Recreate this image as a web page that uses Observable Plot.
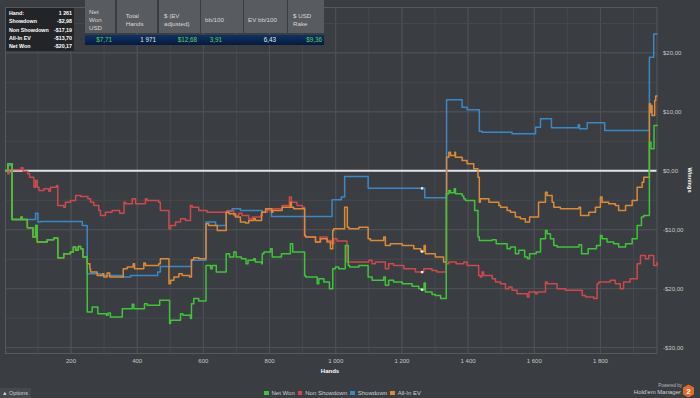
<!DOCTYPE html>
<html><head><meta charset="utf-8">
<script src="https://cdn.jsdelivr.net/npm/d3@7"></script>
<script src="https://cdn.jsdelivr.net/npm/@observablehq/plot@0.6"></script>
<style>
html,body{margin:0;padding:0;background:#3a3d41;}
#wrap{position:relative;width:700px;height:398px;overflow:hidden;background:#3a3d41;font-family:"Liberation Sans",Arial,sans-serif;}
#chart svg{display:block;}
#legend{position:absolute;left:264px;top:387px;height:12px;display:flex;align-items:center;font-size:6px;color:#cfcfcf;white-space:nowrap;}
#legend .it{display:flex;align-items:center;margin-right:3px;}
#legend .sw{width:4.5px;height:4.5px;margin-right:3px;}
#tooltip{position:absolute;left:6px;top:8px;width:68px;height:43px;background:#222427;box-sizing:border-box;padding:1px 2px 0 3px;}
#tooltip .row{display:flex;justify-content:space-between;height:8.3px;line-height:8.3px;font-size:5.3px;font-weight:bold;color:#fff;}
#table{position:absolute;left:85px;top:0;width:239px;height:45px;}
#thead{position:absolute;left:0;top:0;width:239px;height:33px;background:#3a3c40;}
.th{position:absolute;top:0;height:33px;background:#585b5f;color:#d8d8d8;font-size:6.2px;line-height:7.9px;box-sizing:border-box;display:flex;flex-direction:column;justify-content:center;padding-top:7px;}
#trow{position:absolute;left:0;top:35px;width:239px;height:10px;background:linear-gradient(#0e3264,#071a3c);}
.td{position:absolute;top:0;height:10px;line-height:10px;font-size:6.3px;text-align:right;}
#options{position:absolute;left:0;top:388px;width:31px;height:10px;background:#45484d;color:#cfcfcf;font-size:5.5px;line-height:10px;padding-left:2px;box-sizing:border-box;}
#xlabel{position:absolute;left:300px;width:60px;top:368px;text-align:center;font-size:6px;font-weight:bold;color:#fff;}
#ylabel{position:absolute;left:670px;top:177px;width:40px;text-align:center;font-size:5.6px;font-weight:bold;color:#fff;transform:rotate(90deg);}
#powered{position:absolute;right:18px;top:383px;font-size:4.5px;color:#b8b8b8;}
#hem{position:absolute;right:19px;top:389px;font-size:6px;color:#d0d0d0;}
#logo{position:absolute;left:682px;top:384px;}
</style></head><body>
<div id="wrap">
<div id="chart"></div>
<div id="legend"></div>
<div id="tooltip"></div>
<div id="table"><div id="thead"></div><div id="trow"></div></div>
<div id="options">&#9650; Options</div>
<div id="xlabel">Hands</div>
<div id="ylabel">Winnings</div>
<div id="powered">Powered by</div>
<div id="hem">Hold'em Manager</div>
<svg id="logo" width="13" height="14" viewBox="0 0 13 14"><polygon points="6.5,0.5 12,3.5 12,10.5 6.5,13.5 1,10.5 1,3.5" fill="#e0692b"/><text x="6.5" y="10" text-anchor="middle" font-size="8" font-weight="bold" fill="#fff" font-family="Liberation Sans, Arial">2</text></svg>
</div>
<script>
// ---- data ----
const netWonHands = [2,9,22,49,52,68,85,93,98,128,148,160,178,198,207,214,222,229,236,249,264,281,307,312,319,355,385,390,422,430,468,498,501,531,538,561,564,571,586,608,622,627,639,669,679,692,699,715,729,735,752,757,776,778,783,803,808,836,863,870,906,909,944,949,964,981,991,999,1009,1029,1038,1042,1070,1098,1110,1145,1150,1160,1175,1201,1231,1251,1259,1267,1271,1291,1301,1317,1334,1342,1347,1358,1362,1382,1387,1392,1420,1430,1434,1473,1485,1518,1528,1543,1553,1571,1580,1586,1606,1619,1634,1639,1649,1659,1669,1735,1743,1763,1788,1800,1805,1820,1840,1855,1876,1896,1911,1924,1931,1948,1953,1962,1971];
const netWonValues = [0,1.19,-8.25,-7.86,-8.25,-9.66,-11.25,-9.27,-12.1,-11.69,-11.42,-14.75,-14.07,-13.8,-12.95,-13.5,-12.83,-13.22,-14.64,-23.97,-23.12,-24.24,-24.53,-24.14,-24.81,-23.39,-22.66,-23.39,-22.54,-22.83,-21.98,-25.93,-25.37,-24.24,-24.53,-25.08,-22.54,-21.69,-22.1,-16.05,-16.61,-16.05,-17.19,-14.07,-14.64,-13.8,-14.64,-14.92,-15.76,-15.2,-14.92,-15.49,-15.76,-14.07,-13.8,-13.22,-14.64,-14.07,-12.37,-13.8,-17.75,-18.03,-19.15,-18.31,-18.88,-20.0,-16.61,-16.34,-16.61,-12.66,-16.05,-16.34,-16.05,-18.03,-18.59,-18.03,-19.44,-18.59,-18.88,-19.15,-19.61,-20.0,-20.17,-19.05,-20.58,-20.97,-21.14,-21.69,-3.9,-3.34,-3.73,-3.05,-3.9,-4.3,-4.75,-5.03,-6.73,-11.25,-11.81,-11.69,-12.37,-13.22,-12.95,-14.07,-13.5,-14.64,-14.92,-14.07,-13.8,-11.53,-10.12,-10.68,-11.53,-12.66,-12.95,-12.54,-14.07,-13.22,-12.66,-10.97,-11.53,-12.1,-12.37,-12.95,-12.37,-11.53,-9.27,-7.86,-7.58,4.85,3.73,7.68,7.71];

const nonShowdownHands = [2,9,14,49,55,69,75,88,93,98,103,118,133,138,156,160,178,183,198,214,229,251,259,269,284,289,304,324,347,360,365,385,395,425,430,465,470,496,501,516,531,546,561,566,586,611,672,692,707,717,737,748,773,778,793,808,838,860,866,883,899,906,909,939,952,974,987,994,1004,1034,1100,1110,1120,1150,1160,1175,1206,1241,1266,1291,1306,1334,1342,1364,1387,1397,1432,1437,1442,1447,1473,1483,1498,1513,1523,1533,1548,1579,1584,1604,1609,1634,1639,1669,1694,1745,1755,1780,1790,1795,1830,1845,1860,1870,1890,1911,1921,1936,1946,1961,1971];
const nonShowdownValues = [0,-0.51,0.17,0.51,-0.07,-0.51,-1.08,-2.78,-1.64,-2.78,-3.34,-3.05,-3.46,-2.78,-2.49,-5.88,-6.17,-5.32,-5.03,-4.19,-4.36,-4.75,-5.32,-5.88,-6.73,-7.58,-7.02,-6.73,-7.19,-5.32,-5.59,-4.75,-5.59,-4.75,-5.03,-5.32,-6.73,-9.83,-9.27,-8.71,-8.14,-8.42,-5.88,-6.17,-6.73,-7.02,-6.73,-7.58,-7.19,-7.58,-8.14,-7.86,-7.58,-7.02,-6.73,-6.44,-5.88,-4.47,-5.32,-5.88,-6.17,-10.97,-11.25,-12.1,-11.25,-11.81,-12.37,-11.53,-11.93,-15.49,-15.2,-15.76,-15.49,-16.61,-15.76,-16.05,-16.61,-17.19,-16.61,-16.9,-17.19,-15.76,-15.49,-15.76,-15.49,-16.05,-17.75,-18.03,-17.19,-17.75,-18.31,-18.88,-19.15,-20.0,-19.73,-20.29,-20.85,-21.42,-20.58,-20.85,-20.58,-18.88,-19.15,-20.0,-20.29,-21.14,-21.42,-21.69,-19.15,-18.88,-18.59,-19.15,-20.0,-18.88,-18.31,-15.76,-14.36,-14.92,-14.36,-16.05,-15.5];

const showdownHands = [2,9,22,93,100,108,234,249,289,355,380,462,470,564,608,637,669,687,712,778,793,806,989,1017,1027,1098,1269,1335,1382,1397,1434,1442,1533,1604,1619,1652,1733,1737,1760,1813,1948,1961,1971];
const showdownValues = [0,0.9,-8.25,-7.19,-8.71,-8.59,-9.27,-17.46,-17.75,-18.03,-17.75,-17.19,-16.22,-15.2,-8.71,-9.27,-6.9,-6.44,-6.73,-7.02,-6.44,-7.75,-4.92,-4.47,-0.97,-2.98,-4.58,12.03,10.78,10.34,6.71,6.54,6.3,7.39,8.81,7.29,7.8,7.12,8.14,6.83,19.25,23.2,23.2];

const allInEvHands = [2,9,22,49,52,68,85,93,98,128,148,160,178,198,207,214,222,229,236,249,257,259,279,294,299,309,317,358,370,388,392,420,425,465,470,496,501,511,526,536,558,564,571,586,608,616,642,669,677,697,712,727,737,752,757,776,788,806,810,838,863,866,873,906,909,939,954,974,984,991,994,1027,1035,1040,1070,1098,1105,1145,1150,1165,1201,1236,1257,1267,1271,1301,1326,1335,1342,1347,1360,1362,1382,1397,1417,1430,1434,1437,1463,1493,1498,1518,1528,1543,1558,1573,1586,1613,1634,1639,1654,1659,1679,1735,1740,1765,1785,1800,1805,1825,1845,1855,1876,1896,1911,1926,1931,1948,1951,1954,1956,1964,1967,1971];
const allInEvValues = [0,1.19,-8.25,-7.86,-8.25,-9.66,-11.25,-9.27,-12.1,-11.69,-11.42,-14.75,-14.07,-13.8,-12.95,-13.5,-12.83,-13.22,-14.64,-15.76,-16.61,-17.19,-17.75,-17.46,-18.03,-17.36,-18.03,-16.61,-16.34,-15.76,-16.61,-15.66,-16.05,-15.76,-14.92,-19.15,-18.59,-18.03,-17.46,-17.75,-18.03,-15.08,-14.75,-14.92,-8.98,-9.27,-10.12,-7.02,-7.29,-7.86,-8.71,-8.88,-8.42,-8.14,-8.42,-7.02,-6.44,-7.02,-6.73,-6.17,-5.32,-6.17,-6.44,-10.97,-11.25,-12.1,-11.53,-12.1,-13.22,-10.12,-9.83,-6.17,-9.56,-9.83,-9.56,-11.53,-11.81,-11.25,-12.66,-12.37,-12.66,-13.22,-13.7,-12.66,-14.07,-14.64,-15.49,2.31,3.15,2.59,3.15,2.31,1.75,1.19,0.34,-1.08,-5.32,-4.75,-5.32,-5.88,-6.17,-6.73,-7.02,-7.86,-8.14,-8.71,-7.86,-5.32,-3.63,-4.19,-5.32,-6.17,-6.44,-6.17,-7.58,-7.02,-6.17,-4.47,-5.32,-5.59,-5.88,-6.73,-5.88,-5.03,-2.78,-1.93,-1.08,11.36,9.93,11.07,9.37,11.92,12.68,12.68];

const seriesNames = ["Net Won", "Non Showdown", "Showdown", "All-In EV"];
const seriesColors = ["#3fc43a", "#cc4a4e", "#3a88c6", "#dc8a38"];

const hoverHand = 1261;
const hoverLabels = ["Showdown", "Non Showdown", "All-In EV", "Net Won"];
const hoverValues = [-2.98, -17.19, -13.70, -20.17];

const xTickValues = [200, 400, 600, 800, 1000, 1200, 1400, 1600, 1800];
const yTickValues = [-30, -20, -10, 0, 10, 20];

const tableHeaders = [["Net","Won","USD"], ["Total","Hands"], ["$ (EV","adjusted)"], ["bb/100"], ["EV bb/100"], ["$ USD","Rake"]];
const tableValues = ["$7,71", "1 971", "$12,68", "3,91", "6,43", "$9,36"];
const tableValueColors = ["#63d05e", "#e6e6e6", "#63d05e", "#63d05e", "#e6e6e6", "#63d05e"];

// ---- build ----
const rows = (hs, vs) => hs.map((h, i) => ({h, v: vs[i]}));
const seriesData = [
  rows(netWonHands, netWonValues),
  rows(nonShowdownHands, nonShowdownValues),
  rows(showdownHands, showdownValues),
  rows(allInEvHands, allInEvValues)
];
const fmtX = d => d3.format(",")(d).replace(/,/g, " ");
const fmtY = v => (v < 0 ? "-" : "") + "$" + Math.abs(v).toFixed(2).replace(".", ",");
const lineOpts = i => ({x: "h", y: "v", stroke: seriesColors[i], strokeWidth: 1.5, curve: "step-after"});

const chart = Plot.plot({
  width: 700, height: 382,
  marginLeft: 5, marginRight: 43.5, marginTop: 7, marginBottom: 29,
  style: {background: "transparent", color: "#c8c8c8", fontFamily: "Liberation Sans, Arial, sans-serif", fontSize: "6px"},
  x: {domain: [2, 1971]},
  y: {domain: [-31, 27.7]},
  marks: [
    Plot.ruleX(d3.range(100, 2000, 100), {stroke: "#46494e"}),
    Plot.ruleX(xTickValues, {stroke: "#4f5257"}),
    Plot.ruleY(d3.range(-30, 30, 5), {stroke: "#46494e"}),
    Plot.ruleY(yTickValues, {stroke: "#4f5257"}),
    Plot.frame({stroke: "#56595e"}),
    Plot.axisX({ticks: xTickValues, tickSize: 0, tickPadding: 5, tickFormat: fmtX, label: null}),
    Plot.axisY({anchor: "right", ticks: yTickValues, tickSize: 0, tickPadding: 6, tickFormat: fmtY, label: null}),
    Plot.ruleY([0], {stroke: "#e4e4e4", strokeWidth: 2.2}),
    Plot.line(seriesData[2], lineOpts(2)),
    Plot.line(seriesData[1], lineOpts(1)),
    Plot.line(seriesData[3], lineOpts(3)),
    Plot.line(seriesData[0], lineOpts(0)),
    Plot.dot(hoverValues.map(v => ({h: hoverHand, v})), {x: "h", y: "v", symbol: "square", r: 1.3, fill: "#f0f0f0"})
  ]
});
document.getElementById("chart").appendChild(chart);

// legend
const legend = document.getElementById("legend");
seriesNames.forEach((n, i) => {
  const it = document.createElement("div"); it.className = "it";
  it.innerHTML = `<div class="sw" style="background:${seriesColors[i]}"></div><span>${n}</span>`;
  legend.appendChild(it);
});

// tooltip
const tt = document.getElementById("tooltip");
const ttRows = [["Hand:", d3.format(",")(hoverHand).replace(/,/g, " ")]].concat(hoverLabels.map((l, i) => [l, fmtY(hoverValues[i])]));
ttRows.forEach(([a, b]) => {
  const r = document.createElement("div"); r.className = "row";
  r.innerHTML = `<span>${a}</span><span>${b}</span>`;
  tt.appendChild(r);
});

// table
const colEdges = [0, 31.7, 74, 116, 159, 203, 239];
const colPad = [4, 9, 5, 4, 4, 5];
const thead = document.getElementById("thead");
tableHeaders.forEach((lines, i) => {
  const c = document.createElement("div"); c.className = "th";
  c.style.left = colEdges[i] + "px";
  c.style.width = (colEdges[i + 1] - colEdges[i] - (i < 5 ? 1.5 : 0)) + "px";
  c.style.paddingLeft = colPad[i] + "px";
  c.innerHTML = lines.map(l => `<div>${l}</div>`).join("");
  thead.appendChild(c);
});
const valueRight = [27, 71, 112, 137, 191, 237];
const trow = document.getElementById("trow");
tableValues.forEach((v, i) => {
  const d = document.createElement("div"); d.className = "td";
  d.style.right = (239 - valueRight[i]) + "px";
  d.style.color = tableValueColors[i];
  d.textContent = v;
  trow.appendChild(d);
});
</script>
</body></html>
